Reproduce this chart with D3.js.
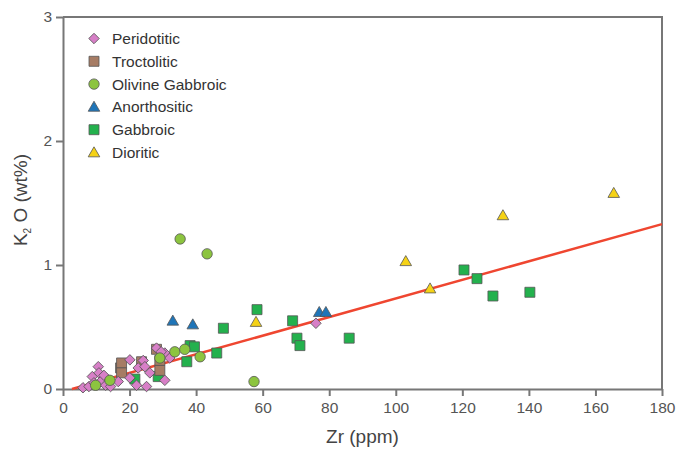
<!DOCTYPE html>
<html lang="en">
<head>
<meta charset="UTF-8">
<title>K2O vs Zr</title>
<script src="https://d3js.org/d3.v7.min.js"></script>
<style>
	body { margin: 0; background: #fff; }
	svg { display: block; font-family: "Liberation Sans", Arial, sans-serif; }
	.tick text { fill: #555; font-size: 15.5px; }
	.axis path, .axis line { stroke: #777; stroke-width: 2; }
	.mark { stroke: #555; stroke-width: 0.8; }
</style>
</head>
<body>
<script>
// data: [Zr ppm, K2O wt%]
var peridotitic = [[6, 0.01], [7.8, 0.02], [8.8, 0.1], [9.3, 0.05], [10.6, 0.18], [10.8, 0.13],
	[11.3, 0.06], [12.3, 0.11], [12.8, 0.03], [14.3, 0.02], [16.6, 0.06], [20.1, 0.235], [20.1, 0.09],
	[22.1, 0.03], [22.6, 0.17], [24.1, 0.23], [24.6, 0.18], [25.1, 0.02], [26.1, 0.13], [28.1, 0.33],
	[30.6, 0.29], [32.1, 0.25], [30.6, 0.07], [29.5, 0.3], [76, 0.53]];
var troctolitic = [[17.3, 0.17], [17.6, 0.21], [17.6, 0.13], [23.6, 0.22], [28.1, 0.32], [29.1, 0.23], [29.1, 0.15]];
var olivineGabbroic = [[35.2, 1.21], [43.3, 1.09], [57.4, 0.06], [33.6, 0.3], [36.6, 0.32], [41.2, 0.26],
	[29.1, 0.25], [9.8, 0.03], [14.1, 0.07]];
var anorthositic = [[33, 0.55], [39, 0.52], [77, 0.62], [79, 0.62]];
var gabbroic = [[120.5, 0.96], [124.4, 0.89], [129.2, 0.75], [140.3, 0.78], [86, 0.41], [69, 0.55],
	[70.3, 0.41], [71.2, 0.35], [58.3, 0.64], [48.2, 0.49], [46.2, 0.29], [38.2, 0.35], [39.5, 0.34],
	[37.2, 0.22], [28.6, 0.1], [21.6, 0.08]];
var dioritic = [[165.5, 1.58], [132.2, 1.40], [103, 1.03], [110.3, 0.81], [58, 0.54]];

// regression line end points
var fitLine = [[2.7, 0], [180, 1.33]];

var xTicks = [0, 20, 40, 60, 80, 100, 120, 140, 160, 180];
var yTicks = [0, 1, 2, 3];

var series = [
	{ name: "Peridotitic", data: peridotitic, shape: "diamond", color: "#d77fc7" },
	{ name: "Troctolitic", data: troctolitic, shape: "square", color: "#a67c64" },
	{ name: "Olivine Gabbroic", data: olivineGabbroic, shape: "circle", color: "#8cc43f" },
	{ name: "Anorthositic", data: anorthositic, shape: "triangle", color: "#1f75b8" },
	{ name: "Gabbroic", data: gabbroic, shape: "square", color: "#23b14d" },
	{ name: "Dioritic", data: dioritic, shape: "triangle", color: "#f5d216" }
];

var width = 682, height = 449;
var plotL = 63, plotR = 662, plotT = 17, plotB = 389;

var x = d3.scaleLinear().domain([0, 180]).range([plotL, plotR]);
var y = d3.scaleLinear().domain([0, 3]).range([plotB, plotT]);

var svg = d3.select("body").append("svg")
	.attr("width", width)
	.attr("height", height);

// frame (top & right)
svg.append("path")
	.attr("d", "M" + plotL + "," + plotT + "H" + plotR + "V" + plotB)
	.attr("fill", "none")
	.attr("stroke", "#777")
	.attr("stroke-width", 2);

var xAxis = svg.append("g")
	.attr("class", "axis")
	.attr("transform", "translate(0," + plotB + ")")
	.call(d3.axisBottom(x).tickValues(xTicks).tickSize(7).tickSizeOuter(0).tickPadding(5));

var yAxis = svg.append("g")
	.attr("class", "axis")
	.attr("transform", "translate(" + plotL + ",0)")
	.call(d3.axisLeft(y).tickValues(yTicks).tickFormat(d3.format("d"))
		.tickSize(7).tickSizeOuter(0).tickPadding(4));

xAxis.selectAll(".tick text").attr("dy", "0.8em");

svg.append("text")
	.attr("x", (plotL + plotR) / 2)
	.attr("y", 443)
	.attr("text-anchor", "middle")
	.attr("fill", "#444")
	.style("font-size", "19px")
	.text("Zr (ppm)");

var yt = svg.append("text")
	.attr("transform", "translate(27," + ((plotT + plotB) / 2 - 3) + ") rotate(-90)")
	.attr("text-anchor", "middle")
	.attr("fill", "#444")
	.style("font-size", "19px");
yt.append("tspan").text("K");
yt.append("tspan").attr("dy", 4).style("font-size", "10px").text("2");
yt.append("tspan").attr("dy", -4).text(" O (wt%)");

// fit line
svg.append("line")
	.attr("x1", x(fitLine[0][0])).attr("y1", y(fitLine[0][1]))
	.attr("x2", x(fitLine[1][0])).attr("y2", y(fitLine[1][1]))
	.attr("stroke", "#ef4630")
	.attr("stroke-width", 2.5);

function symbolPath(shape) {
	if (shape === "diamond") return d3.symbol().type(d3.symbolSquare).size(55)();
	if (shape === "square") return d3.symbol().type(d3.symbolSquare).size(100)();
	if (shape === "circle") return d3.symbol().type(d3.symbolCircle).size(85)();
	return d3.symbol().type(d3.symbolTriangle).size(58)();
}

function transformFor(shape, px, py) {
	var t = "translate(" + px + "," + py + ")";
	if (shape === "diamond") t += " rotate(45)";
	if (shape === "triangle") t = "translate(" + px + "," + (py + 1) + ")";
	return t;
}

// draw order: squares under diamonds in the cluster
var drawOrder = [4, 1, 0, 2, 3, 5];
drawOrder.forEach(function (i) {
	var s = series[i];
	svg.append("g").selectAll("path")
		.data(s.data)
		.enter().append("path")
		.attr("class", "mark")
		.attr("d", symbolPath(s.shape))
		.attr("transform", function (d) { return transformFor(s.shape, x(d[0]), y(d[1])); })
		.attr("fill", s.color);
});

// legend
var legend = svg.append("g");
series.forEach(function (s, i) {
	var ly = 38.5 + i * 22.8;
	legend.append("path")
		.attr("class", "mark")
		.attr("d", symbolPath(s.shape))
		.attr("transform", transformFor(s.shape, 94, ly))
		.attr("fill", s.color);
	legend.append("text")
		.attr("x", 112)
		.attr("y", ly + 5.5)
		.attr("fill", "#333")
		.style("font-size", "15.5px")
		.text(s.name);
});
</script>
</body>
</html>
